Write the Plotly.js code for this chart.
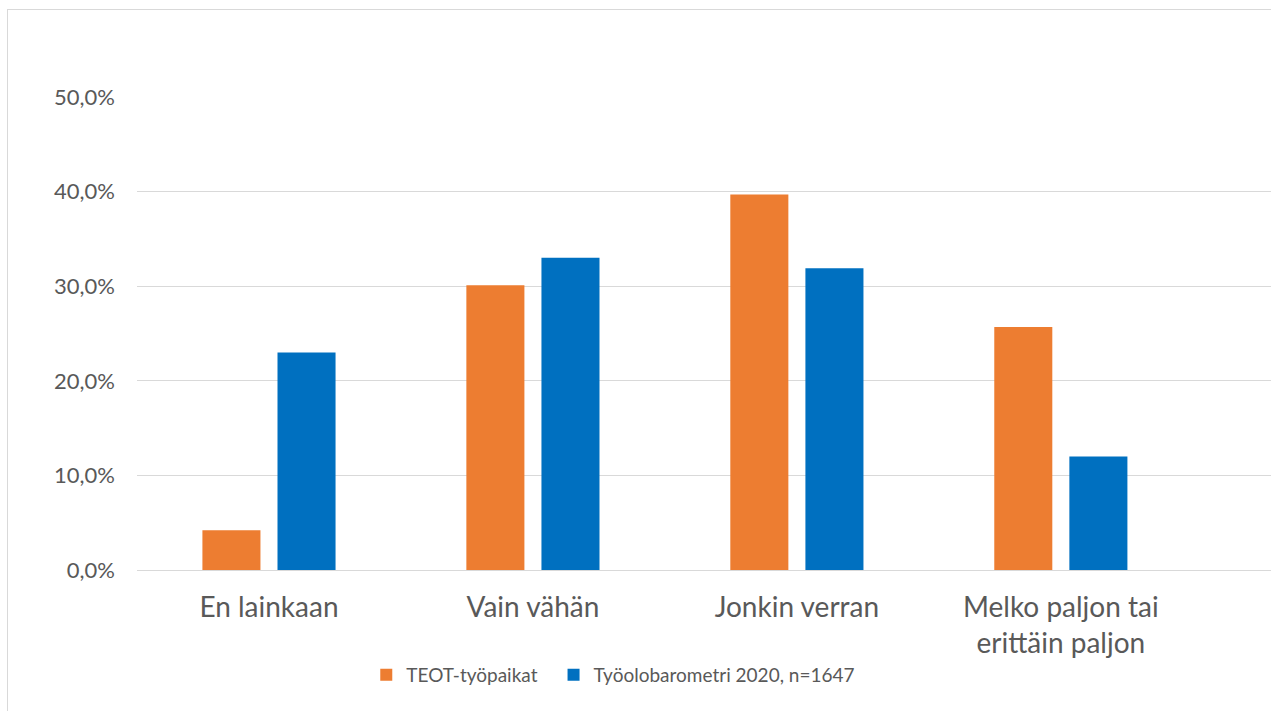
<!DOCTYPE html>
<html>
<head>
<meta charset="utf-8">
<script src="https://cdn.plot.ly/plotly-3.0.1.min.js"></script>
<style>
  html, body { margin: 0; padding: 0; background: #ffffff; overflow: hidden; }
  #frame {
    position: absolute; left: 7px; top: 9px;
    width: 1264px; height: 702px;
    border-left: 1px solid #d9d9d9; border-top: 1px solid #d9d9d9;
  }
  #chart { width: 1264px; height: 702px; }
</style>
</head>
<body>
<div id="frame"><div id="chart"></div></div>
<script>
// Response categories
const categories = [
  'En lainkaan',
  'Vain vähän',
  'Jonkin verran',
  'Melko paljon tai<br>erittäin paljon'
];

// Share of respondents per category (fractions)
const teotValues = [0.042, 0.301, 0.397, 0.257];
const barometriValues = [0.230, 0.330, 0.319, 0.120];

const seriesNames = ['TEOT-työpaikat', 'Työolobarometri 2020, n=1647'];
const seriesColors = ['#ED7D31', '#0070C0'];

const yTicks = [0, 0.1, 0.2, 0.3, 0.4, 0.5];

const textColor = '#595959';
const fontFamily = 'Lato, "Open Sans", sans-serif';

const traces = [
  { type: 'bar', name: seriesNames[0], x: categories, y: teotValues,
    marker: { color: seriesColors[0] }, legend: 'legend' },
  { type: 'bar', name: seriesNames[1], x: categories, y: barometriValues,
    marker: { color: seriesColors[1] }, legend: 'legend2' }
];

// Each series gets its own legend box so the two entries can be spaced freely
const legendBase = {
  orientation: 'h',
  xanchor: 'left',
  y: -0.222, yanchor: 'middle',
  font: { size: 19, color: textColor, family: fontFamily },
  itemwidth: 30,
  bgcolor: 'rgba(0,0,0,0)'
};

const layout = {
  width: 1264,
  height: 702,
  paper_bgcolor: '#ffffff',
  plot_bgcolor: '#ffffff',
  separators: ', ',
  font: { family: fontFamily, color: textColor },
  margin: { l: 129, r: 0, t: 87, b: 141.5, pad: 0 },
  barmode: 'group',
  bargap: 0.431,
  bargroupgap: 0.227,
  showlegend: true,
  legend: Object.assign({}, legendBase, { x: 0.202 }),
  legend2: Object.assign({}, legendBase, { x: 0.367 }),
  xaxis: {
    range: [-0.5, 3.8],
    showgrid: false,
    zeroline: false,
    showline: false,
    ticks: '',
    tickfont: { size: 28, color: textColor, family: fontFamily },
    ticklabelstandoff: 18,
    fixedrange: true
  },
  yaxis: {
    range: [0, 0.5],
    tickvals: yTicks,
    tickformat: '.1%',
    showgrid: true,
    gridcolor: '#d9d9d9',
    gridwidth: 1,
    zeroline: true,
    zerolinecolor: '#d9d9d9',
    zerolinewidth: 1,
    showline: false,
    ticks: '',
    ticklabelstandoff: 21,
    tickfont: { size: 22, color: textColor, family: fontFamily },
    fixedrange: true
  }
};

Plotly.newPlot('chart', traces, layout, { staticPlot: true, displayModeBar: false });
</script>
</body>
</html>
